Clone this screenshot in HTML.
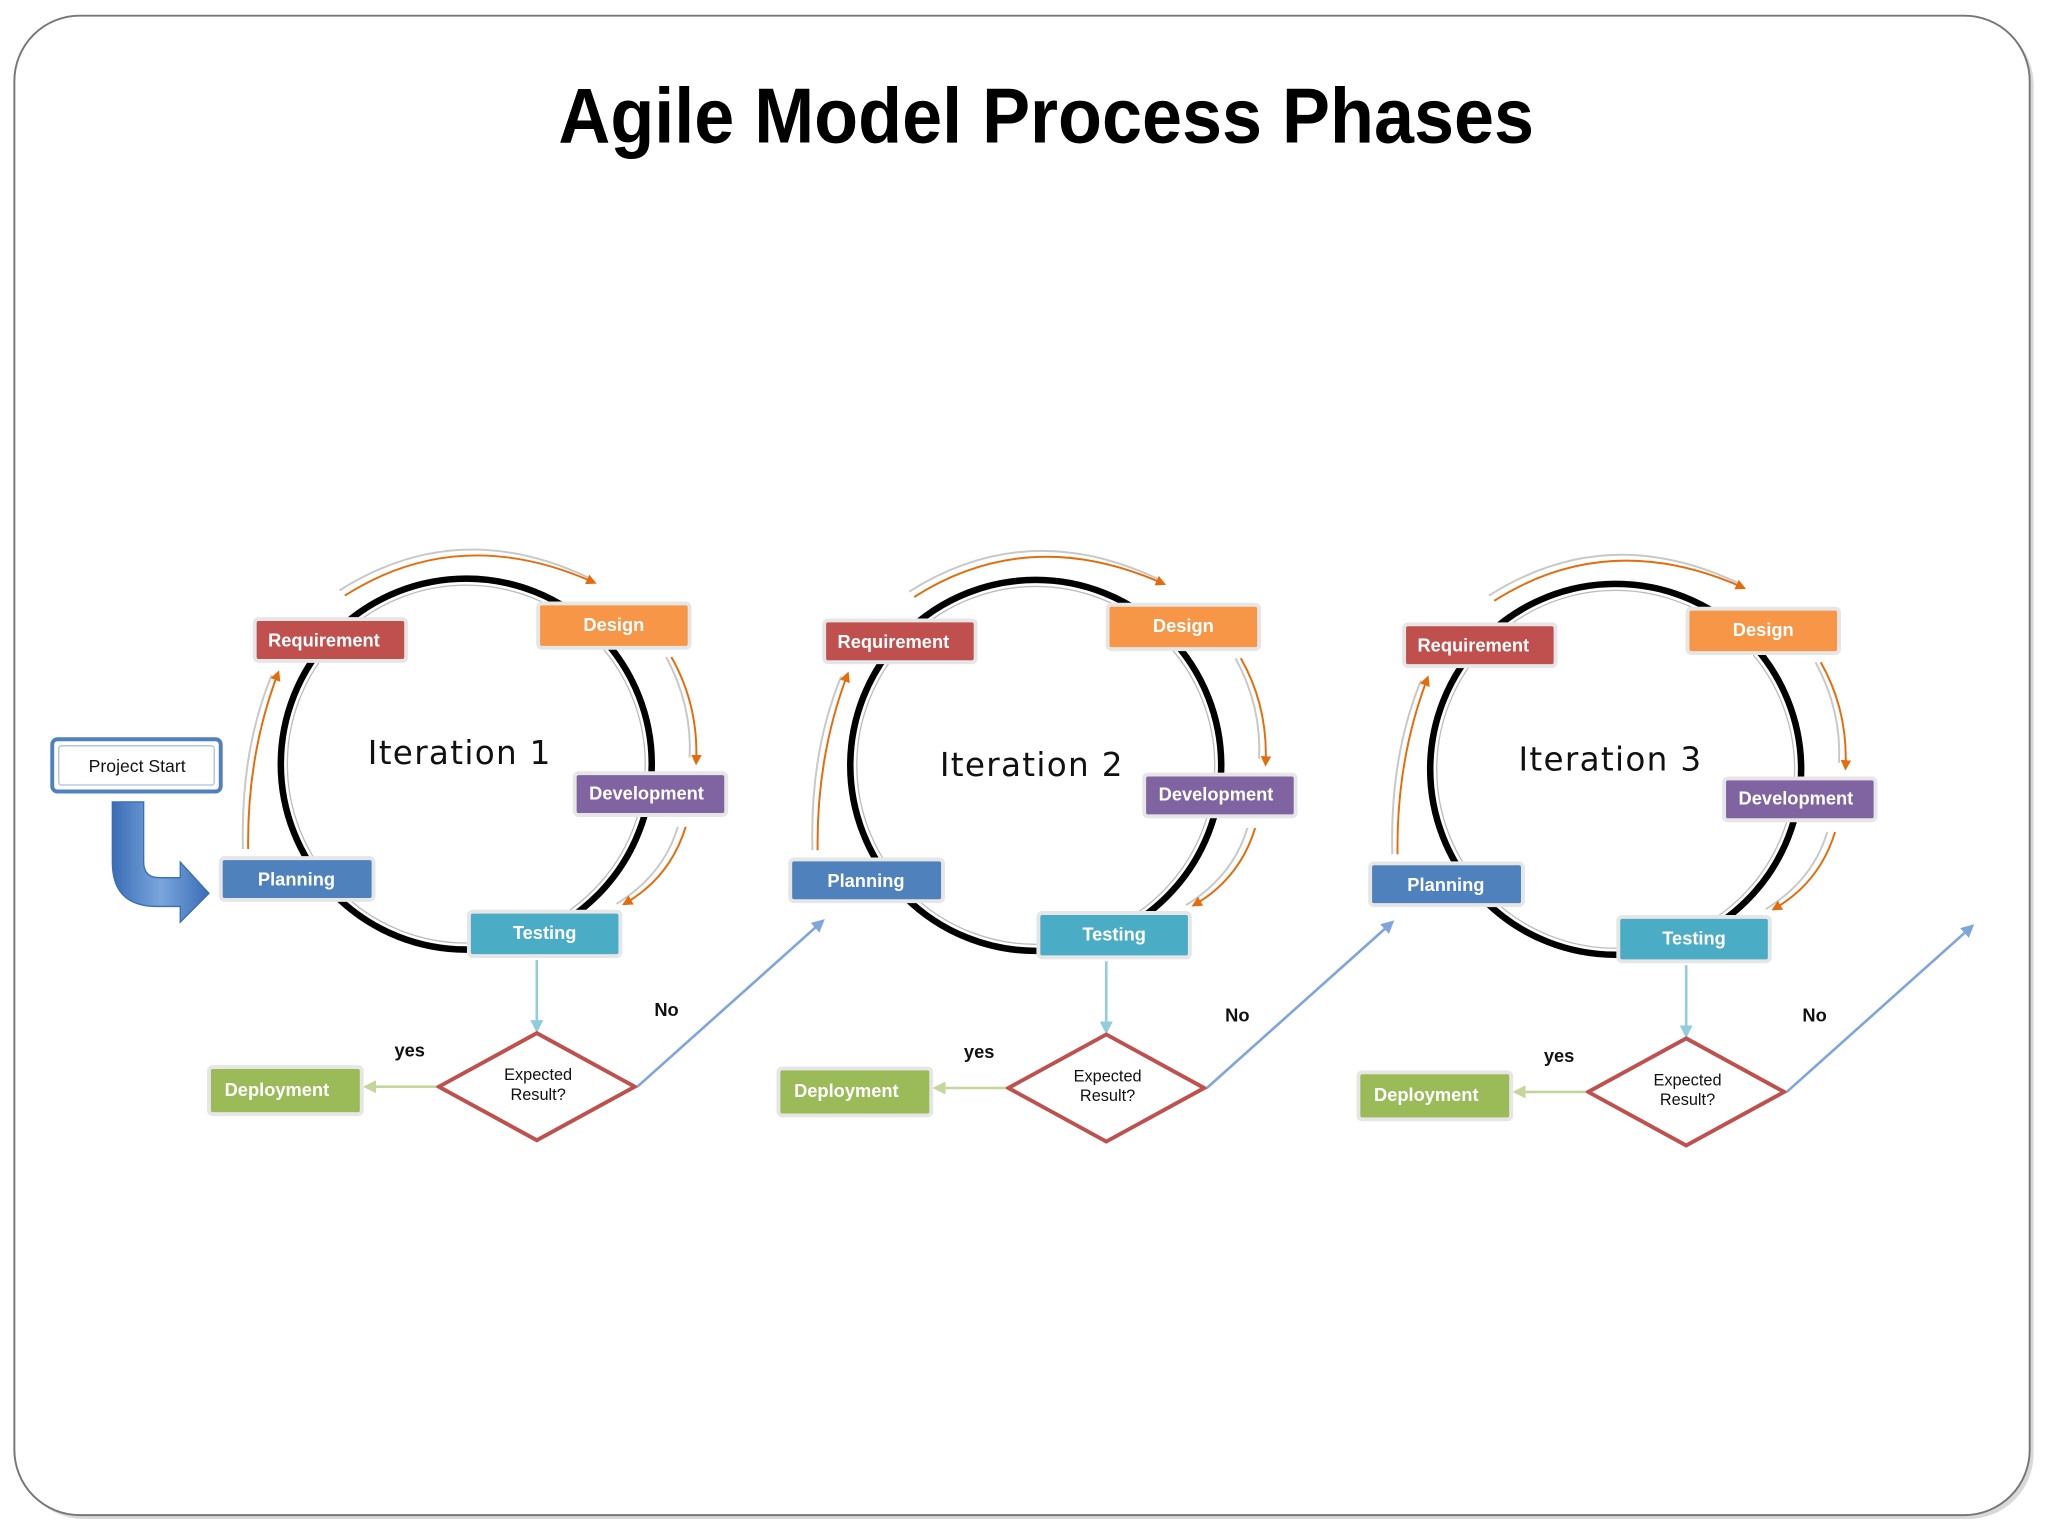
<!DOCTYPE html>
<html><head><meta charset="utf-8"><style>
html,body{margin:0;padding:0;background:#fff;}
svg{display:block;}
.bx{stroke:#e6e6e6;stroke-width:3;}
.bt{font-family:"Liberation Sans",sans-serif;font-size:14px;font-weight:bold;fill:#fff;text-anchor:middle;}
.it{font-family:"DejaVu Sans",sans-serif;font-size:25px;fill:#111;text-anchor:middle;letter-spacing:1px;}
.lb{font-family:"Liberation Sans",sans-serif;font-size:14px;font-weight:bold;fill:#111;}
.dt{font-family:"Liberation Sans",sans-serif;font-size:12.5px;fill:#111;text-anchor:middle;}
.or{fill:none;stroke:#e46c0a;stroke-width:1.5;}
.gr{fill:none;stroke:#c8c8c8;stroke-width:1.5;}
</style></head><body>
<svg width="2048" height="1536" viewBox="0 0 1568 1176" xmlns="http://www.w3.org/2000/svg">
<defs>
<marker id="ao" markerWidth="8" markerHeight="8" refX="6" refY="4" orient="auto" markerUnits="userSpaceOnUse"><path d="M0,0 L8,4 L0,8 z" fill="#e46c0a"/></marker>
<marker id="ab" markerWidth="10" markerHeight="10" refX="8" refY="5" orient="auto" markerUnits="userSpaceOnUse"><path d="M0,0 L10,5 L0,10 z" fill="#7ea6dc"/></marker>
<marker id="at" markerWidth="10" markerHeight="10" refX="8" refY="5" orient="auto" markerUnits="userSpaceOnUse"><path d="M0,0 L10,5 L0,10 z" fill="#93cddd"/></marker>
<marker id="ag" markerWidth="10" markerHeight="10" refX="8" refY="5" orient="auto" markerUnits="userSpaceOnUse"><path d="M0,0 L10,5 L0,10 z" fill="#c3d69b"/></marker>
<linearGradient id="bg" x1="0" y1="0" x2="1" y2="0"><stop offset="0" stop-color="#3a6db5"/><stop offset="0.5" stop-color="#7aa6dd"/><stop offset="1" stop-color="#3a6db5"/></linearGradient>
</defs>
<rect x="14" y="15" width="1543" height="1148" rx="50" fill="#d9d9d9"/>
<rect x="11" y="12" width="1543" height="1148" rx="50" fill="#fff" stroke="#777" stroke-width="1.5"/>
<text x="801" y="109" font-family="Liberation Sans,sans-serif" font-weight="bold" font-size="60" text-anchor="middle" textLength="747" lengthAdjust="spacingAndGlyphs" fill="#000">Agile Model Process Phases</text>

<!-- Project start -->
<rect x="40" y="566" width="129" height="40" rx="4" fill="#fff" stroke="#4f81bd" stroke-width="3"/>
<rect x="45" y="571" width="119" height="30" rx="2" fill="none" stroke="#a8c0e0" stroke-width="1"/>
<text x="105" y="591" font-family="Liberation Sans,sans-serif" font-size="13.5" text-anchor="middle" fill="#111">Project Start</text>
<path d="M86,614 L110,614 L110,660 Q110,672 122,672 L138,672 L138,660 L160,684 L138,706 L138,694 L120,694 Q86,694 86,660 Z" fill="url(#bg)" stroke="#3a6db5" stroke-width="1"/>

<!-- Iteration 1 -->
<g transform="translate(0,0)">
<circle cx="357" cy="585" r="142" fill="none" stroke="#000" stroke-width="5"/>
<circle cx="357" cy="585" r="137" fill="none" stroke="#bbb" stroke-width="1"/>
<path class="gr" d="M260,452 Q350,395 450,442"/><path class="or" marker-end="url(#ao)" d="M264,456 Q352,400 455,446"/>
<path class="gr" d="M510,503 Q530,540 528,580"/><path class="or" marker-end="url(#ao)" d="M514,503 Q535,540 533,584"/>
<path class="gr" d="M519,633 Q508,670 472,692"/><path class="or" marker-end="url(#ao)" d="M525,633 Q513,672 478,692"/>
<path class="gr" d="M186,650 Q184,575 208,517"/><path class="or" marker-end="url(#ao)" d="M190,650 Q189,578 213,515"/>
<rect class="bx" x="195" y="474" width="116" height="32" rx="3" fill="#c0504d"/><text class="bt" x="248" y="495">Requirement</text>
<rect class="bx" x="412" y="462" width="116" height="34" rx="3" fill="#f79646"/><text class="bt" x="470" y="483">Design</text>
<rect class="bx" x="440" y="592" width="116" height="32" rx="3" fill="#8064a2"/><text class="bt" x="495" y="612">Development</text>
<rect class="bx" x="169" y="657" width="117" height="32" rx="3" fill="#4f81bd"/><text class="bt" x="227" y="678">Planning</text>
<rect class="bx" x="359" y="698" width="116" height="34" rx="3" fill="#4bacc6"/><text class="bt" x="417" y="719">Testing</text>
<text class="it" x="352" y="585">Iteration 1</text>
<line x1="411" y1="735" x2="411" y2="789" stroke="#93cddd" stroke-width="2" marker-end="url(#at)"/>
<polygon points="411,791 486,832 411,873 336,832" fill="#fff" stroke="#c0504d" stroke-width="3"/>
<text class="dt" x="412" y="827">Expected</text><text class="dt" x="412" y="842">Result?</text>
<line x1="334" y1="832" x2="280" y2="832" stroke="#c3d69b" stroke-width="2" marker-end="url(#ag)"/>
<rect class="bx" x="160" y="817" width="117" height="36" rx="3" fill="#9bbb59"/><text class="bt" x="212" y="839">Deployment</text>
<text class="lb" x="302" y="809">yes</text><text class="lb" x="501" y="778">No</text>
<line x1="488" y1="832" x2="630" y2="705" stroke="#7ea6dc" stroke-width="2" marker-end="url(#ab)"/>
</g>

<!-- Iteration 2 -->
<g transform="translate(436,1)">
<circle cx="357" cy="585" r="142" fill="none" stroke="#000" stroke-width="5"/>
<circle cx="357" cy="585" r="137" fill="none" stroke="#bbb" stroke-width="1"/>
<path class="gr" d="M260,452 Q350,395 450,442"/><path class="or" marker-end="url(#ao)" d="M264,456 Q352,400 455,446"/>
<path class="gr" d="M510,503 Q530,540 528,580"/><path class="or" marker-end="url(#ao)" d="M514,503 Q535,540 533,584"/>
<path class="gr" d="M519,633 Q508,670 472,692"/><path class="or" marker-end="url(#ao)" d="M525,633 Q513,672 478,692"/>
<path class="gr" d="M186,650 Q184,575 208,517"/><path class="or" marker-end="url(#ao)" d="M190,650 Q189,578 213,515"/>
<rect class="bx" x="195" y="474" width="116" height="32" rx="3" fill="#c0504d"/><text class="bt" x="248" y="495">Requirement</text>
<rect class="bx" x="412" y="462" width="116" height="34" rx="3" fill="#f79646"/><text class="bt" x="470" y="483">Design</text>
<rect class="bx" x="440" y="592" width="116" height="32" rx="3" fill="#8064a2"/><text class="bt" x="495" y="612">Development</text>
<rect class="bx" x="169" y="657" width="117" height="32" rx="3" fill="#4f81bd"/><text class="bt" x="227" y="678">Planning</text>
<rect class="bx" x="359" y="698" width="116" height="34" rx="3" fill="#4bacc6"/><text class="bt" x="417" y="719">Testing</text>
<text class="it" x="354" y="593">Iteration 2</text>
<line x1="411" y1="735" x2="411" y2="789" stroke="#93cddd" stroke-width="2" marker-end="url(#at)"/>
<polygon points="411,791 486,832 411,873 336,832" fill="#fff" stroke="#c0504d" stroke-width="3"/>
<text class="dt" x="412" y="827">Expected</text><text class="dt" x="412" y="842">Result?</text>
<line x1="334" y1="832" x2="280" y2="832" stroke="#c3d69b" stroke-width="2" marker-end="url(#ag)"/>
<rect class="bx" x="160" y="817" width="117" height="36" rx="3" fill="#9bbb59"/><text class="bt" x="212" y="839">Deployment</text>
<text class="lb" x="302" y="809">yes</text><text class="lb" x="502" y="781">No</text>
<line x1="488" y1="832" x2="630" y2="705" stroke="#7ea6dc" stroke-width="2" marker-end="url(#ab)"/>
</g>

<!-- Iteration 3 -->
<g transform="translate(880,4)">
<circle cx="357" cy="585" r="142" fill="none" stroke="#000" stroke-width="5"/>
<circle cx="357" cy="585" r="137" fill="none" stroke="#bbb" stroke-width="1"/>
<path class="gr" d="M260,452 Q350,395 450,442"/><path class="or" marker-end="url(#ao)" d="M264,456 Q352,400 455,446"/>
<path class="gr" d="M510,503 Q530,540 528,580"/><path class="or" marker-end="url(#ao)" d="M514,503 Q535,540 533,584"/>
<path class="gr" d="M519,633 Q508,670 472,692"/><path class="or" marker-end="url(#ao)" d="M525,633 Q513,672 478,692"/>
<path class="gr" d="M186,650 Q184,575 208,517"/><path class="or" marker-end="url(#ao)" d="M190,650 Q189,578 213,515"/>
<rect class="bx" x="195" y="474" width="116" height="32" rx="3" fill="#c0504d"/><text class="bt" x="248" y="495">Requirement</text>
<rect class="bx" x="412" y="462" width="116" height="34" rx="3" fill="#f79646"/><text class="bt" x="470" y="483">Design</text>
<rect class="bx" x="440" y="592" width="116" height="32" rx="3" fill="#8064a2"/><text class="bt" x="495" y="612">Development</text>
<rect class="bx" x="169" y="657" width="117" height="32" rx="3" fill="#4f81bd"/><text class="bt" x="227" y="678">Planning</text>
<rect class="bx" x="359" y="698" width="116" height="34" rx="3" fill="#4bacc6"/><text class="bt" x="417" y="719">Testing</text>
<text class="it" x="353" y="586">Iteration 3</text>
<line x1="411" y1="735" x2="411" y2="789" stroke="#93cddd" stroke-width="2" marker-end="url(#at)"/>
<polygon points="411,791 486,832 411,873 336,832" fill="#fff" stroke="#c0504d" stroke-width="3"/>
<text class="dt" x="412" y="827">Expected</text><text class="dt" x="412" y="842">Result?</text>
<line x1="334" y1="832" x2="280" y2="832" stroke="#c3d69b" stroke-width="2" marker-end="url(#ag)"/>
<rect class="bx" x="160" y="817" width="117" height="36" rx="3" fill="#9bbb59"/><text class="bt" x="212" y="839">Deployment</text>
<text class="lb" x="302" y="809">yes</text><text class="lb" x="500" y="778">No</text>
<line x1="488" y1="832" x2="630" y2="705" stroke="#7ea6dc" stroke-width="2" marker-end="url(#ab)"/>
</g>
</svg>
</body></html>
